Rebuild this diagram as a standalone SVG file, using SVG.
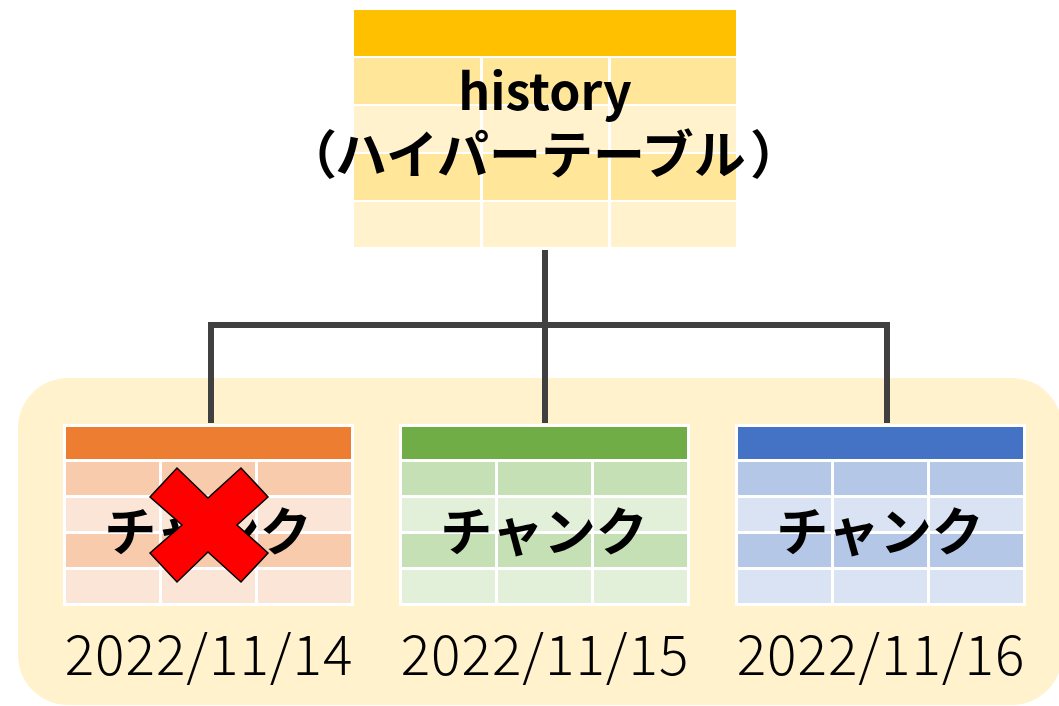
<svg xmlns="http://www.w3.org/2000/svg" width="1059" height="706" viewBox="0 0 1059 706">
<style>
.lbl{font-family:"Noto Sans CJK JP","Noto Sans",sans-serif;font-weight:700;fill:#000;text-anchor:middle}
.date{font-family:"Noto Sans CJK JP","Noto Sans",sans-serif;font-weight:300;font-size:55px;letter-spacing:1px;fill:#000;text-anchor:middle}
.conn{fill:none;stroke:#404040;stroke-width:6}
.h{fill:var(--h)}.a{fill:var(--a)}.b{fill:var(--b)}
.o{--h:#ED7D31;--a:#F8CBAD;--b:#FBE5D6}
.g{--h:#70AD47;--a:#C5E0B4;--b:#E2F0D9}
.u{--h:#4472C4;--a:#B4C7E7;--b:#DAE3F3}
.y{--h:#FFC000;--a:#FFE699;--b:#FFF2CC}
</style>
<defs>
<g id="chunkgrid">
<rect x="0" y="0" width="291" height="182" fill="#fff"/>
<rect class="h" x="3" y="3" width="285" height="32"/>
<rect class="a" x="3" y="38" width="93" height="33"/><rect class="a" x="99" y="38" width="93" height="33"/><rect class="a" x="195" y="38" width="93" height="33"/>
<rect class="b" x="3" y="74" width="93" height="33"/><rect class="b" x="99" y="74" width="93" height="33"/><rect class="b" x="195" y="74" width="93" height="33"/>
<rect class="a" x="3" y="110" width="93" height="33"/><rect class="a" x="99" y="110" width="93" height="33"/><rect class="a" x="195" y="110" width="93" height="33"/>
<rect class="b" x="3" y="146" width="93" height="33"/><rect class="b" x="99" y="146" width="93" height="33"/><rect class="b" x="195" y="146" width="93" height="33"/>
</g>
</defs>
<rect width="1059" height="706" fill="#fff"/>
<rect id="partition-bg" x="18" y="378" width="1044" height="327" rx="50" fill="#FFF2CC"/>
<g id="connectors">
<path class="conn" d="M545 250 V325 M211 423 V325 H887 V423 M545 325 V423"/>
</g>
<g id="history" class="y">
<rect class="h" x="354" y="10" width="382" height="46"/>
<rect class="a" x="354" y="58" width="126" height="46"/><rect class="a" x="483" y="58" width="125" height="46"/><rect class="a" x="611" y="58" width="125" height="46"/>
<rect class="b" x="354" y="106" width="126" height="46"/><rect class="b" x="483" y="106" width="125" height="46"/><rect class="b" x="611" y="106" width="125" height="46"/>
<rect class="a" x="354" y="154" width="126" height="46"/><rect class="a" x="483" y="154" width="125" height="46"/><rect class="a" x="611" y="154" width="125" height="46"/>
<rect class="b" x="354" y="202" width="126" height="45"/><rect class="b" x="483" y="202" width="125" height="45"/><rect class="b" x="611" y="202" width="125" height="45"/>
<text class="lbl" x="545" y="110" font-size="50">history</text>
<text class="lbl" y="174" font-size="52" style="text-anchor:start"><tspan x="285">（</tspan><tspan x="335">ハイパーテーブル</tspan><tspan x="750">）</tspan></text>
</g>
<g id="chunk-1114" class="o">
<use href="#chunkgrid" x="63" y="424"/>
<text class="lbl" x="208" y="551" font-size="52">チャンク</text>
<polygon points="150,497 177,468 208,498 241,468 268,497 237,525 268,553 241,582 208,552 177,582 150,553 182,525" fill="#FF0000" stroke="#000" stroke-width="1.5"/>
<text class="date" x="209" y="675">2022/11/14</text>
</g>
<g id="chunk-1115" class="g">
<use href="#chunkgrid" x="399" y="424"/>
<text class="lbl" x="544" y="551" font-size="52">チャンク</text>
<text class="date" x="545" y="675">2022/11/15</text>
</g>
<g id="chunk-1116" class="u">
<use href="#chunkgrid" x="735" y="424"/>
<text class="lbl" x="880" y="551" font-size="52">チャンク</text>
<text class="date" x="881" y="675">2022/11/16</text>
</g>
</svg>
